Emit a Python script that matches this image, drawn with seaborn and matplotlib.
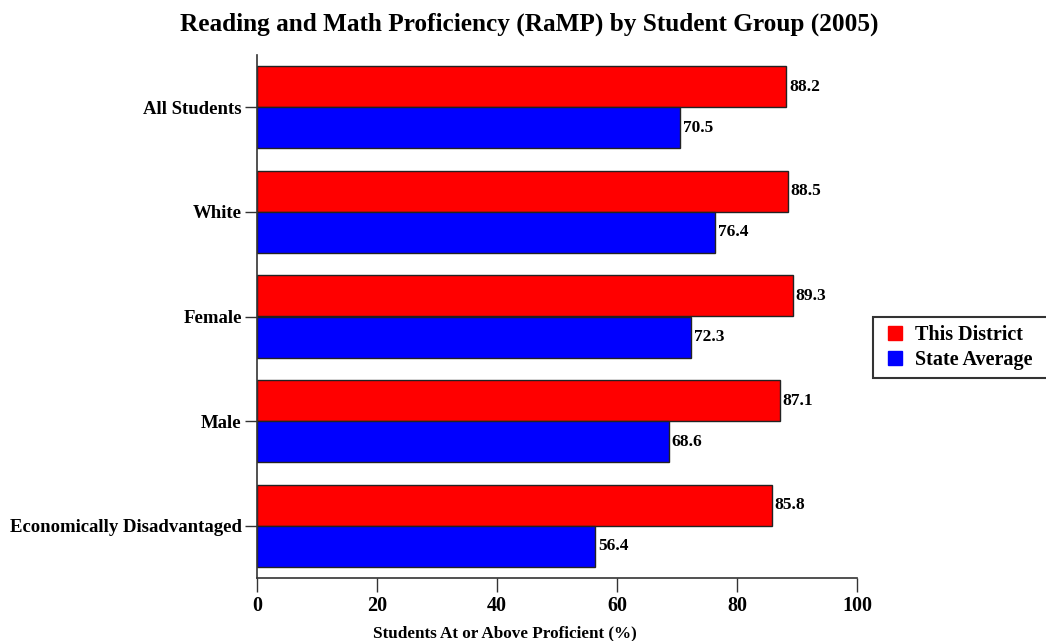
import matplotlib
matplotlib.use("Agg")
import matplotlib.pyplot as plt
from matplotlib.lines import Line2D
import seaborn as sns
import pandas as pd

groups = ["All Students", "White", "Female", "Male", "Economically Disadvantaged"]
district = [88.2, 88.5, 89.3, 87.1, 85.8]
state = [70.5, 76.4, 72.3, 68.6, 56.4]
series_names = ["This District", "State Average"]
series_colors = ["#ff0000", "#0000ff"]
x_ticks = [0, 20, 40, 60, 80, 100]

df = pd.DataFrame({
    "group": groups * 2,
    "value": district + state,
    "series": [series_names[0]] * len(groups) + [series_names[1]] * len(groups),
})

sns.set_style("white")
plt.rcParams["font.family"] = ["Liberation Serif", "DejaVu Serif"]
plt.rcParams["font.weight"] = "bold"
plt.rcParams["text.color"] = "black"
plt.rcParams["xtick.color"] = "black"
plt.rcParams["ytick.color"] = "black"
plt.rcParams["axes.labelcolor"] = "black"

fig = plt.figure(figsize=(10.46, 6.41), dpi=100)
ax = fig.add_axes([257 / 1046, 63 / 641, 600 / 1046, 523 / 641])

sns.barplot(
    data=df, y="group", x="value", hue="series", order=groups,
    hue_order=series_names, palette=series_colors,
    width=0.785, edgecolor="#222222", linewidth=1.0, saturation=1,
    orient="h", ax=ax, legend=False,
)

# value labels at the end of each bar
for cont in ax.containers:
    ax.bar_label(cont, fmt="%.1f", padding=2, fontsize=12.5, fontweight="bold", color="black")

ax.set_xlim(0, 100)
ax.set_ylim(4.5, -0.5)
ax.set_xticks(x_ticks)
ax.set_xticklabels([str(v) for v in x_ticks], fontsize=14.5, fontweight="bold")
ax.tick_params(axis="y", labelsize=13.5, length=9, width=1, color="#333333", pad=2, left=True)
ax.tick_params(axis="x", length=10, width=1, color="#333333", pad=3, bottom=True)
for lab in ax.get_yticklabels():
    lab.set_fontweight("bold")

for side in ["top", "right"]:
    ax.spines[side].set_visible(False)
for side in ["left", "bottom"]:
    ax.spines[side].set_color("#333333")
    ax.spines[side].set_linewidth(1.2)

ax.set_ylabel("")
ax.set_xlabel("Students At or Above Proficient (%)", fontsize=12.3, fontweight="bold")
ax.xaxis.set_label_coords(0.413, -0.09)

fig.text(0.506, 1 - 31 / 641, "Reading and Math Proficiency (RaMP) by Student Group (2005)",
         ha="center", va="baseline", fontsize=18.2, fontweight="bold")

# legend with square swatches, running off the right edge
handles = [
    Line2D([], [], marker="s", markersize=9.5, linestyle="none",
           markerfacecolor=c, markeredgecolor=c)
    for c in series_colors
]
leg = fig.legend(
    handles, series_names, loc="upper left", mode="expand",
    bbox_to_anchor=(873 / 1046, 1 - 380 / 641, 185 / 1046, 63 / 641),
    bbox_transform=fig.transFigure,
    fontsize=14.5, frameon=True, fancybox=False, handlelength=1.4,
    handletextpad=0.3, borderpad=0.4, labelspacing=0.25, borderaxespad=0,
)
leg.get_frame().set_edgecolor("black")
leg.get_frame().set_linewidth(1.5)
for t in leg.get_texts():
    t.set_fontweight("bold")

fig.savefig("out.png", dpi=100)
